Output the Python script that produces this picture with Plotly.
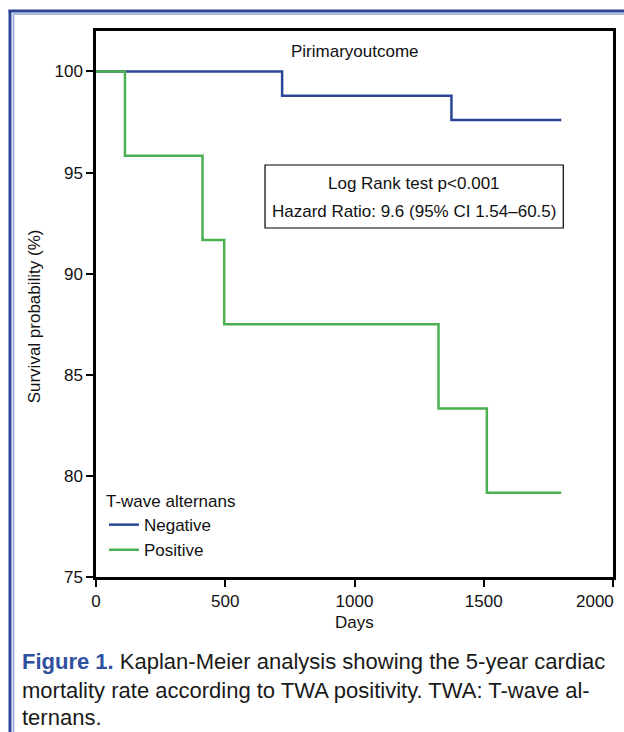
import plotly.graph_objects as go

# ---- data ----
neg_days = [0, 720, 1375, 1800]
neg_surv = [100, 98.8, 97.6, 97.6]
pos_days = [0, 112, 412, 496, 1325, 1512, 1800]
pos_surv = [100, 95.83, 91.67, 87.5, 83.33, 79.17, 79.17]

x_ticks = [0, 500, 1000, 1500, 2000]
x_tick_labels = ["0", "500", "1000", "1500", "2000"]
y_ticks = [75, 80, 85, 90, 95, 100]

series_names = ["Negative", "Positive"]
series_colors = ["#2a4596", "#4caf50"]

FONT = "Liberation Sans, Arial, Helvetica, sans-serif"
FS = 17
W, H = 624, 732
L, R, T, B = 96, 8, 31, 155
PW, PH = W - L - R, H - T - B


def px(x):
    return (x - L) / PW


def py(y):
    return (H - B - y) / PH


fig = go.Figure()
for name, xs, ys, col in [
    (series_names[0], neg_days, neg_surv, series_colors[0]),
    (series_names[1], pos_days, pos_surv, series_colors[1]),
]:
    fig.add_trace(go.Scatter(x=xs, y=ys, mode="lines", name=name,
                             line=dict(color=col, width=2.5, shape="hv")))

# last x tick label is drawn right-aligned at the tick (as in the original, clamped to the edge)
shown_x_labels = x_tick_labels[:-1] + [""]

fig.update_layout(
    width=W, height=H,
    margin=dict(l=L, r=R, t=T, b=B),
    paper_bgcolor="white", plot_bgcolor="white",
    font=dict(family=FONT, size=FS, color="#111"),
    showlegend=True,
    legend=dict(
        title=dict(text="T-wave alternans", font=dict(size=FS)),
        x=px(104), y=py(485), xanchor="left", yanchor="top",
        bgcolor="rgba(0,0,0,0)", font=dict(size=FS),
    ),
    xaxis=dict(range=[0, 2000], tickvals=x_ticks, ticktext=shown_x_labels,
               showgrid=False, zeroline=False,
               showline=True, linecolor="black", linewidth=2.5, mirror=True,
               ticks="outside", ticklen=7, tickwidth=2, tickcolor="black",
               tickfont=dict(size=FS)),
    yaxis=dict(range=[75, 102], tickvals=y_ticks, showgrid=False, zeroline=False,
               showline=True, linecolor="black", linewidth=2.5, mirror=True,
               ticks="outside", ticklen=7, tickwidth=2, tickcolor="black",
               tickfont=dict(size=FS)),
)


def note(text, x, y, **kw):
    d = dict(text=text, x=px(x), y=py(y), xref="paper", yref="paper",
             showarrow=False, xanchor="center", yanchor="middle", font=dict(size=FS))
    d.update(kw)
    return d


ann = [
    note("Pirimaryoutcome", 357, 52),
    note("Survival probability (%)", 35, 316, textangle=-90),
    note("Days", 356, 622),
    note("Log Rank test p<0.001", 416, 183),
    note("Hazard Ratio: 9.6 (95% CI 1.54\u201360.5)", 416, 211),
    dict(text=x_tick_labels[-1], x=x_ticks[-1], xref="x", y=py(601), yref="paper",
         showarrow=False, xanchor="right", yanchor="middle", xshift=3, font=dict(size=FS)),
]
cap = [
    "<b><span style='color:#2f4f9f'>Figure 1.</span></b> Kaplan-Meier analysis showing the 5-year cardiac",
    "mortality rate according to TWA positivity. TWA: T-wave al-",
    "ternans.",
]
for t, yy in zip(cap, [662, 690, 717]):
    ann.append(note(t, 20, yy, xanchor="left", font=dict(size=22, color="#1a1a1a")))
fig.update_layout(annotations=ann)

shapes = [
    dict(type="rect", xref="paper", yref="paper", x0=px(266), x1=px(566), y0=py(228), y1=py(165),
         line=dict(color="black", width=1.2), fillcolor="rgba(0,0,0,0)"),
    # journal frame
    dict(type="line", xref="paper", yref="paper", x0=px(9.5), x1=px(9.5), y0=py(10), y1=py(740),
         line=dict(color="#2a4596", width=3)),
    dict(type="line", xref="paper", yref="paper", x0=px(8), x1=px(640), y0=py(11), y1=py(11),
         line=dict(color="#2a4596", width=3)),
    dict(type="line", xref="paper", yref="paper", x0=px(13), x1=px(13), y0=py(13.5), y1=py(740),
         line=dict(color="#8da2d6", width=1.5)),
    dict(type="line", xref="paper", yref="paper", x0=px(13), x1=px(640), y0=py(14), y1=py(14),
         line=dict(color="#8da2d6", width=1.5)),
]
fig.update_layout(shapes=shapes)

fig.write_html("out.html", config={"displayModeBar": False},
               post_script="document.body.style.margin='0px';")
